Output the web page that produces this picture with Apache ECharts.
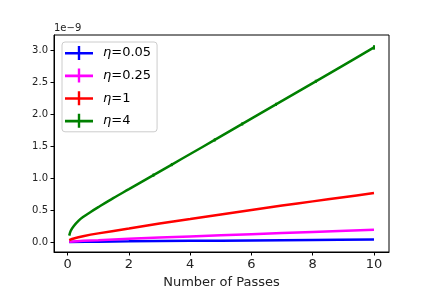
<!DOCTYPE html>
<html><head><meta charset="utf-8">
<script src="https://cdn.jsdelivr.net/npm/echarts@6/dist/echarts.min.js"></script>
<style>html,body{margin:0;padding:0;background:#fff}#c{width:432px;height:288px}</style>
</head><body><div id="c"></div>
<script>
const xTicks = [0, 2, 4, 6, 8, 10];
const yTicks = [0, 0.5, 1.0, 1.5, 2.0, 2.5, 3.0];
const labels = ['0.05', '0.25', '1', '4'];
const colors = ['#0000ff', '#ff00ff', '#ff0000', '#008000'];

const xBlue = [0.05, 1, 2, 4, 6, 8, 10];
const yBlue = [0.001, 0.006, 0.010, 0.018, 0.025, 0.032, 0.040];
const xMag = [0.05, 0.5, 1, 2, 4, 6, 8, 10];
const yMag = [0.005, 0.018, 0.028, 0.050, 0.088, 0.122, 0.157, 0.192];
const xRed = [0.05, 0.2, 0.5, 1, 2, 3, 4, 5, 6, 7, 8, 9, 10];
const yRed = [0.03, 0.055, 0.09, 0.135, 0.21, 0.29, 0.36, 0.43, 0.50, 0.57, 0.635, 0.70, 0.765];
const xGreen = [0.05, 0.1, 0.2, 0.35, 0.5, 0.75, 1, 1.5, 2, 2.4, 2.8, 3.4, 4, 4.8, 5.7, 6.8, 8.1, 9, 10];
const yGreen = [0.10, 0.175, 0.25, 0.33, 0.39, 0.47, 0.545, 0.69, 0.825, 0.935, 1.045, 1.21, 1.375, 1.595, 1.845, 2.15, 2.51, 2.76, 3.04];
const xErr = [2.8, 3.4, 4.8, 5.7, 6.8, 8.1, 10];
const yErr = [1.045, 1.21, 1.595, 1.845, 2.15, 2.51, 3.04];
const eErr = [0.025, 0.025, 0.025, 0.025, 0.025, 0.025, 0.035];

const xs = [xBlue, xMag, xRed, xGreen];
const ys = [yBlue, yMag, yRed, yGreen];

const chart = echarts.init(document.getElementById('c'), null, {renderer: 'canvas'});
const FONT = 'DejaVu Sans';
const icon = 'path://M0,6 L28,6 L28,8.6 L0,8.6 Z M12.8,0 L15.2,0 L15.2,14 L12.8,14 Z';

const series = labels.map((l, i) => ({
  name: 'η=' + l,
  type: 'line',
  showSymbol: false,
  symbol: 'none',
  smooth: 0.3,
  lineStyle: {color: colors[i], width: 2.5},
  itemStyle: {color: colors[i]},
  data: xs[i].map((x, j) => [x, ys[i][j]]),
  z: 2 + i,
  animation: false
}));

series.push({
  type: 'custom',
  z: 10,
  animation: false,
  data: xErr.map((x, j) => [x, yErr[j] - eErr[j], yErr[j] + eErr[j]]),
  renderItem: function (params, api) {
    const lo = api.coord([api.value(0), api.value(1)]);
    const hi = api.coord([api.value(0), api.value(2)]);
    return {
      type: 'line',
      shape: {x1: lo[0], y1: lo[1], x2: hi[0], y2: hi[1]},
      style: {stroke: colors[3], lineWidth: 2}
    };
  }
});

chart.setOption({
  animation: false,
  textStyle: {fontFamily: FONT},
  grid: {left: 54, right: 43, top: 35, bottom: 36, outerBoundsMode: 'none', containLabel: false,
         show: true, borderColor: '#000', borderWidth: 1, backgroundColor: 'transparent'},
  xAxis: {
    type: 'value', min: -0.447, max: 10.49,
    name: 'Number of Passes', nameLocation: 'middle', nameGap: 24,
    nameTextStyle: {fontSize: 13, color: '#222', fontFamily: FONT},
    axisLine: {show: true, onZero: false, lineStyle: {color: '#000', width: 1}},
    axisTick: {show: true, inside: false, length: 3.5, lineStyle: {color: '#000'}, customValues: xTicks},
    axisLabel: {fontSize: 13, color: '#222', margin: 6, fontFamily: FONT, customValues: xTicks, formatter: v => String(v)},
    splitLine: {show: false}
  },
  yAxis: {
    type: 'value', min: -0.156, max: 3.234,
    axisLine: {show: true, onZero: false, lineStyle: {color: '#000', width: 1}},
    axisTick: {show: true, inside: false, length: 3.5, lineStyle: {color: '#000'}, customValues: yTicks},
    axisLabel: {fontSize: 10, color: '#222', margin: 6, fontFamily: FONT, customValues: yTicks, formatter: v => v.toFixed(1)},
    splitLine: {show: false}
  },
  legend: {
    show: true, orient: 'vertical', left: 62, top: 42,
    padding: [4, 6, 4, 3], itemGap: 8.6, itemWidth: 28, itemHeight: 14,
    backgroundColor: '#fff', borderColor: '#ccc', borderWidth: 1, borderRadius: 3,
    data: labels.map((l, i) => ({name: 'η=' + l, icon: icon, itemStyle: {color: colors[i]}})),
    formatter: function (name) { return '{i|η}{n|' + name.slice(1) + '}'; },
    textStyle: {
      fontSize: 13, color: '#000', padding: [0, 0, 0, 5],
      rich: {
        i: {fontStyle: 'italic', fontSize: 13, fontFamily: FONT, color: '#000'},
        n: {fontSize: 13, fontFamily: FONT, color: '#000'}
      }
    }
  },
  graphic: [{
    type: 'text', left: 54, top: 23,
    style: {text: '1e\u22129', fontSize: 10, fill: '#222', fontFamily: FONT}
  }],
  series: series
});
</script></body></html>
